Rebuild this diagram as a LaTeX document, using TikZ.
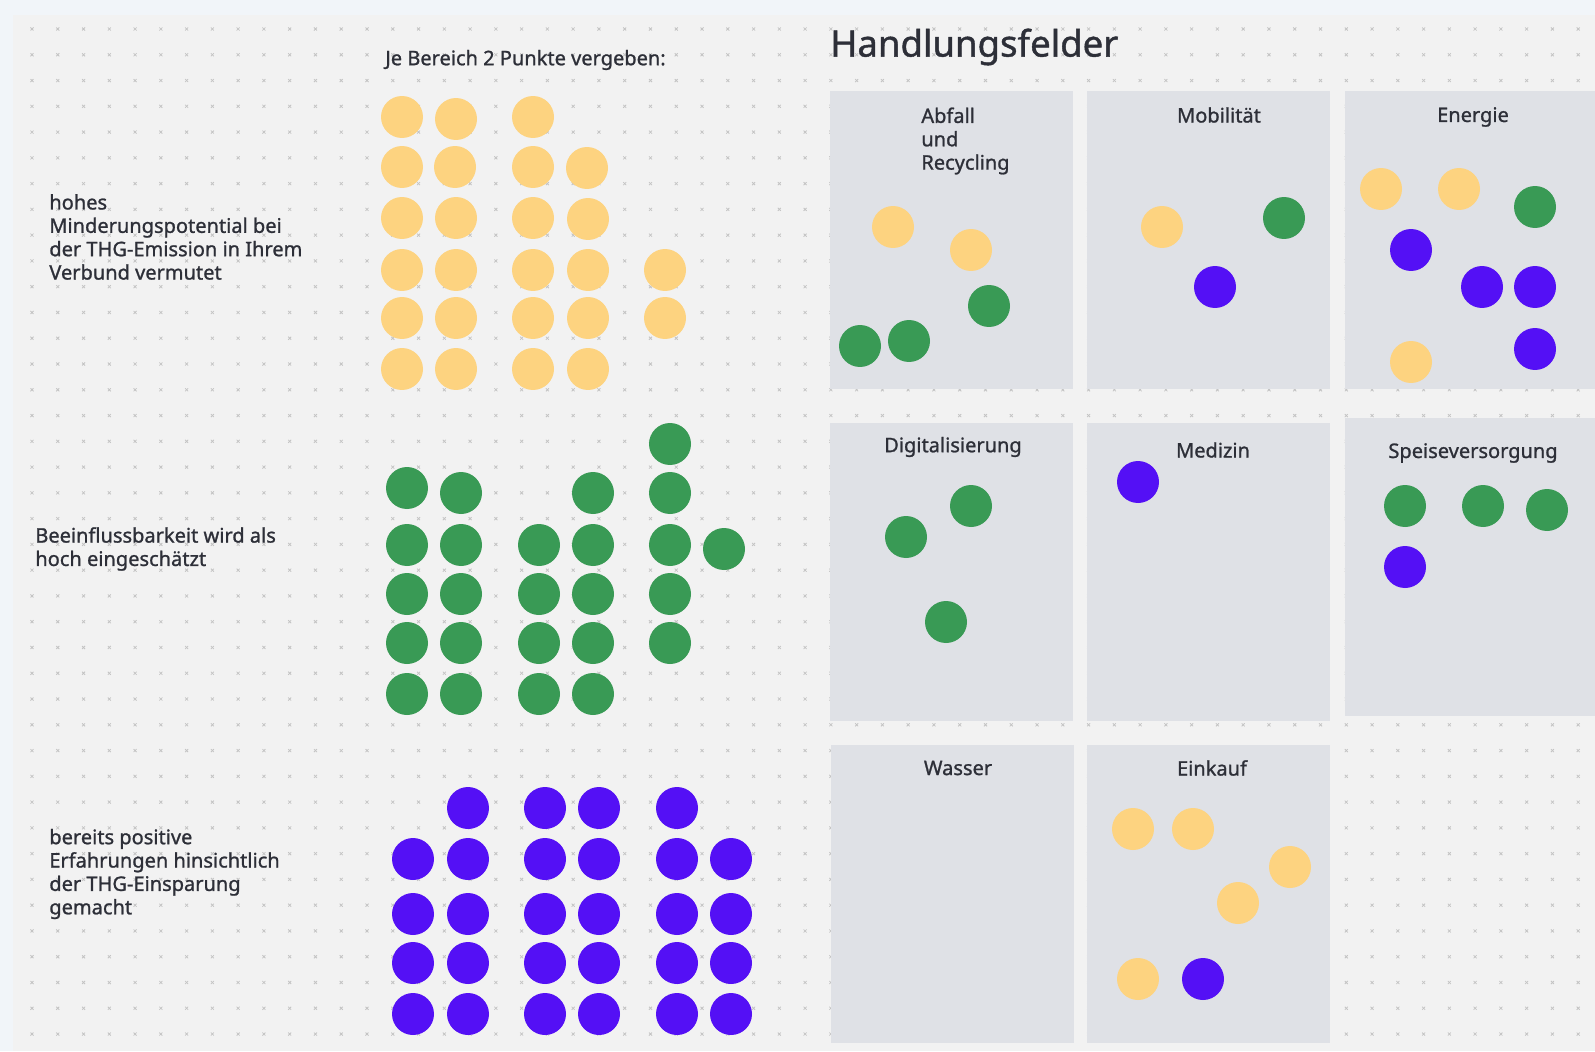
\documentclass[tikz,border=0pt]{standalone}
\usepackage{fontspec}
\setmainfont{Noto Sans}
\newfontfamily\medfont{Noto Sans}[FakeBold=1.1]
\usetikzlibrary{positioning}
\definecolor{frame}{RGB}{241,245,249}
\definecolor{board}{RGB}{242,242,242}
\definecolor{panelgray}{RGB}{223,225,230}
\definecolor{gridgray}{RGB}{196,196,196}
\definecolor{ink}{RGB}{45,47,56}
\definecolor{dotyellow}{RGB}{253,211,128}
\definecolor{dotgreen}{RGB}{57,154,85}
\definecolor{dotpurple}{RGB}{84,16,245}

\begin{document}
\begin{tikzpicture}[x=0.02cm,y=-0.02cm,
  panel/.style={fill=panelgray,anchor=north west,inner sep=0pt,
                minimum width=4.86cm,minimum height=5.96cm},
  dot/.style={circle,inner sep=0pt,minimum size=0.84cm},
  ydot/.style={dot,fill=dotyellow},
  gdot/.style={dot,fill=dotgreen},
  pdot/.style={dot,fill=dotpurple},
  txt/.style={font=\medfont\fontsize{11.4}{13.3}\selectfont,text=ink,align=left,
              inner sep=0pt,anchor=west},
  hdr/.style={font=\medfont\fontsize{11.4}{13.3}\selectfont,text=ink,inner sep=0pt},
  gridx/.style={draw=gridgray,line width=0.45pt}
]
\clip (0,0) rectangle (1595,1051);
\fill[frame] (0,0) rectangle (1595,1051);
\fill[board] (13,15) rectangle (1595,1051);
% dotted board grid
\path[gridx] \foreach \i in {0,...,60}{\foreach \j in {0,...,39}{
  (32+25.77*\i-1.5,29+25.77*\j-1.5) -- ++(3,3) ++(0,-3) -- ++(-3,3)}};

% Left column: criteria
\node[txt] (crit1) at (49,237)
  {hohes\\Minderungspotential bei\\der THG-Emission in Ihrem\\Verbund vermutet};
\node[txt] (crit2) at (35,549) {Beeinflussbarkeit wird als\\hoch eingeschätzt};
\node[txt] (crit3) at (49,874)
  {bereits positive\\Erfahrungen hinsichtlich\\der THG-Einsparung\\gemacht};
\node[txt] (hint) at (385,60) {Je Bereich 2 Punkte vergeben:};

% Dot matrix (yellow / green / purple)
\foreach \x/\y [count=\n] in {402/117,456/119,533/117,
  402/167,455/167,533/167,587/168, 402/218,456/218,533/218,588/219,
  402/270,456/270,533/270,588/270,665/270, 402/318,456/318,533/318,588/318,665/318,
  402/369,456/369,533/369,588/369}
  \node[ydot] (ym\n) at (\x,\y) {};
\foreach \x/\y [count=\n] in {670/444, 407/488,461/493,593/493,670/493,
  407/545,461/545,539/545,593/545,670/545,724/549,
  407/594,461/594,539/594,593/594,670/594,
  407/643,461/643,539/643,593/643,670/643,
  407/694,461/694,539/694,593/694}
  \node[gdot] (gm\n) at (\x,\y) {};
\foreach \x/\y [count=\n] in {468/808,545/808,599/808,677/808}
  \node[pdot] (pm\n) at (\x,\y) {};
\foreach \r [count=\k] in {859,914,963,1014}
  \foreach \x [count=\n] in {413,468,545,599,677,731}
    \node[pdot] (pm\k-\n) at (\x,\r) {};

% Handlungsfelder
\node[txt,font=\medfont\fontsize{20.8}{24}\selectfont] (title) at (830,47) {Handlungsfelder};
\node[panel] (abfall)  at (830,91)  {};
\node[panel] (mobil)   at (1087,91) {};
\node[panel,minimum width=5.2cm] (energie) at (1345,91) {};
\node[panel] (digital) at (830,423) {};
\node[panel] (medizin) at (1087,423) {};
\node[panel,minimum width=5.2cm] (speise) at (1345,418) {};
\node[panel] (wasser)  at (831,745) {};
\node[panel] (einkauf) at (1087,745) {};

\node[txt] (t-abfall) at (921,141) {Abfall\\und\\Recycling};
\node[hdr] (t-mobil)   at (1219,115) {Mobilität};
\node[hdr] (t-energie) at (1473,117) {Energie};
\node[hdr] (t-digital) at (953,447) {Digitalisierung};
\node[hdr] (t-medizin) at (1213,450) {Medizin};
\node[hdr] (t-speise)  at (1473,453) {Speiseversorgung};
\node[hdr] (t-wasser)  at (958,768) {Wasser};
\node[hdr] (t-einkauf) at (1212,768) {Einkauf};

% points in the fields
\foreach \x/\y [count=\n] in {893/227,971/250, 1162/227,
  1381/189,1459/189,1411/362, 1133/829,1193/829,1290/867,1238/903,1138/979}
  \node[ydot] (yf\n) at (\x,\y) {};
\foreach \x/\y [count=\n] in {989/306,860/346,909/341, 1284/218, 1535/207,
  971/506,906/537,946/622, 1405/506,1483/506,1547/510}
  \node[gdot] (gf\n) at (\x,\y) {};
\foreach \x/\y [count=\n] in {1215/287, 1411/250,1482/287,1535/287,1535/349,
  1138/482, 1405/567, 1203/979}
  \node[pdot] (pf\n) at (\x,\y) {};
\end{tikzpicture}
\end{document}
